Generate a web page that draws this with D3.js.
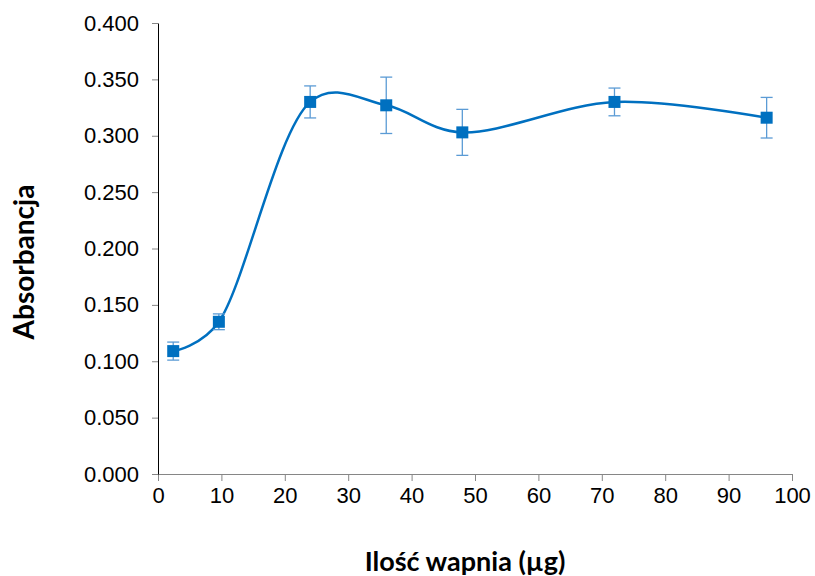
<!DOCTYPE html>
<html>
<head>
<meta charset="utf-8">
<script src="https://cdn.jsdelivr.net/npm/d3@7"></script>
<style>
  body { margin: 0; background: #fff; }
  svg text { fill: #000; }
</style>
</head>
<body>
<div id="chart"></div>
<script>
// data
var calcium = [2.4, 9.6, 24, 36, 48, 72, 96];
var absorbance = [0.109, 0.135, 0.330, 0.327, 0.303, 0.330, 0.316];
var errors = [0.008, 0.007, 0.0142, 0.025, 0.0204, 0.0123, 0.018];
var xTicks = [0, 10, 20, 30, 40, 50, 60, 70, 80, 90, 100];
var yTicks = [0, 0.05, 0.1, 0.15, 0.2, 0.25, 0.3, 0.35, 0.4];

var W = 815, H = 576;
var margin = {top: 23, right: 23, bottom: 102, left: 158},
    width = W - margin.left - margin.right,
    height = H - margin.top - margin.bottom;

var svg = d3.select("#chart")
  .append("svg")
    .attr("width", W)
    .attr("height", H)
  .append("g")
    .attr("transform", "translate(" + margin.left + "," + margin.top + ")");

var x = d3.scaleLinear().domain([0, 100]).range([0, width]);
var y = d3.scaleLinear().domain([0, 0.4]).range([height, 0]);

var data = calcium.map(function(c, i) {
  return {x: c, y: absorbance[i], e: errors[i]};
});

// axes
var xAxis = svg.append("g")
  .attr("transform", "translate(0," + height + ")")
  .call(d3.axisBottom(x).tickValues(xTicks).tickSize(7).tickSizeOuter(0).tickPadding(6));
var yAxis = svg.append("g")
  .call(d3.axisLeft(y).tickValues(yTicks).tickFormat(d3.format(".3f")).tickSize(6).tickSizeOuter(0).tickPadding(13));

[xAxis, yAxis].forEach(function(a) {
  a.selectAll("text")
    .style("font-family", "'Liberation Sans', Arial, sans-serif")
    .style("font-size", "22px")
    .style("fill", "#000");
  a.selectAll("line").attr("stroke", "#868686");
  a.select(".domain").attr("stroke", "#868686");
});
yAxis.select(".domain").attr("stroke", "#000");

// smoothed line (excel-like smoothing)
var line = d3.line()
  .x(function(d) { return x(d.x); })
  .y(function(d) { return y(d.y); })
  .curve(d3.curveCatmullRom.alpha(0.3));

svg.append("path")
  .datum(data)
  .attr("fill", "none")
  .attr("stroke", "#0070C0")
  .attr("stroke-width", 2.5)
  .attr("d", line);

// error bars
var eb = svg.append("g").selectAll("g")
  .data(data)
  .enter().append("g")
    .attr("stroke", "#5B9BD5")
    .attr("stroke-width", 1.3);
eb.append("line")
  .attr("x1", function(d) { return x(d.x); })
  .attr("x2", function(d) { return x(d.x); })
  .attr("y1", function(d) { return y(d.y - d.e); })
  .attr("y2", function(d) { return y(d.y + d.e); });
eb.append("line")
  .attr("x1", function(d) { return x(d.x) - 6; })
  .attr("x2", function(d) { return x(d.x) + 6; })
  .attr("y1", function(d) { return y(d.y + d.e); })
  .attr("y2", function(d) { return y(d.y + d.e); });
eb.append("line")
  .attr("x1", function(d) { return x(d.x) - 6; })
  .attr("x2", function(d) { return x(d.x) + 6; })
  .attr("y1", function(d) { return y(d.y - d.e); })
  .attr("y2", function(d) { return y(d.y - d.e); });

// markers
svg.append("g").selectAll("rect")
  .data(data)
  .enter().append("rect")
    .attr("x", function(d) { return x(d.x) - 6; })
    .attr("y", function(d) { return y(d.y) - 6; })
    .attr("width", 12)
    .attr("height", 12)
    .attr("fill", "#0070C0");

// axis titles
svg.append("text")
  .attr("x", 465 - margin.left)
  .attr("y", 571 - margin.top)
  .attr("text-anchor", "middle")
  .style("font-family", "Lato, 'Open Sans', sans-serif")
  .style("font-weight", "bold")
  .style("font-size", "27px")
  .text("Ilość wapnia (µg)");

svg.append("text")
  .attr("transform", "translate(" + (34 - margin.left) + "," + (262 - margin.top) + ") rotate(-90)")
  .attr("text-anchor", "middle")
  .style("font-family", "Lato, 'Open Sans', sans-serif")
  .style("font-weight", "bold")
  .style("font-size", "28px")
  .text("Absorbancja");
</script>
</body>
</html>
